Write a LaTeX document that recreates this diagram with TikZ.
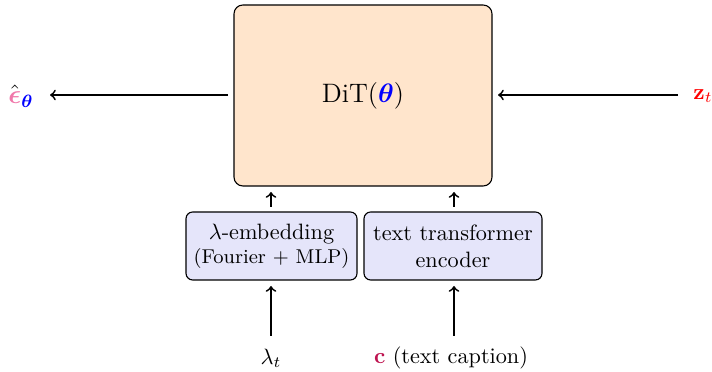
\documentclass[tikz,border=0pt]{standalone}
\usepackage{amsmath,bm}
\definecolor{peach}{RGB}{255,229,204}
\definecolor{lav}{RGB}{229,229,250}
\definecolor{epspink}{RGB}{240,120,170}
\definecolor{cpurple}{RGB}{190,20,80}
\begin{document}
\begin{tikzpicture}[x=0.45pt,y=-0.45pt,
  bigbox/.style={draw=black,fill=peach,rounded corners=4pt,line width=0.5pt},
  smallbox/.style={draw=black,fill=lav,rounded corners=3pt,line width=0.5pt,align=center},
  arr/.style={->,line width=0.8pt},
  lbl/.style={inner sep=1pt}]
\useasboundingbox (0,0) rectangle (712,372);
\node[bigbox,minimum width=258*0.45pt,minimum height=181*0.45pt] (dit) at (363,95.5) {\large DiT($\color{blue}\bm{\theta}$)};
\node[smallbox,minimum width=171*0.45pt,minimum height=68*0.45pt,inner sep=1pt] (lam) at (271.5,246) {$\lambda$-embedding\\[-1pt]{\small (Fourier + MLP)}};
\node[smallbox,minimum width=178*0.45pt,minimum height=68*0.45pt,inner sep=1pt] (txt) at (453,246) {text transformer\\encoder};
\node[lbl,font=\large] (eps) at (21,96) {$\hat{\textcolor{epspink}{\bm{\epsilon}}}_{\textcolor{blue}{\bm{\theta}}}$};
\node[lbl] (z) at (703,96) {$\color{red}\mathbf{z}_t$};
\node[lbl] (lt) at (271,358) {$\lambda_t$};
\node[lbl] (c) at (451,358) {$\color{cpurple}\mathbf{c}$ (text caption)};
\coordinate (eL) at (50,95);
\coordinate (zR) at (678,95);
\draw[arr] (228,95) coordinate (dL) -- (eL);
\draw[arr] (zR) -- (498,95);
\draw[arr] (271,207) -- (271,192);
\draw[arr] (454,207) -- (454,192);
\draw[arr] (271,336) -- (271,286);
\draw[arr] (454,336) -- (454,286);
\end{tikzpicture}
\end{document}
